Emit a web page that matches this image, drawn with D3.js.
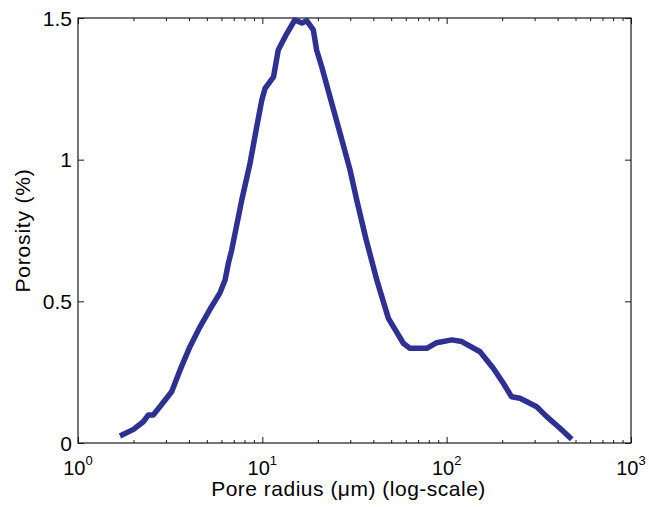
<!DOCTYPE html>
<html>
<head>
<meta charset="utf-8">
<script src="https://cdn.jsdelivr.net/npm/d3@7/dist/d3.min.js"></script>
<style>
  html, body { margin: 0; padding: 0; background: #fff; }
  svg { display: block; font-family: "Liberation Sans", Arial, sans-serif; }
</style>
</head>
<body>
<svg id="chart" width="649" height="507"></svg>
<script>
// Pore radius (µm)
const radius = [1.69, 1.73, 2.0, 2.26, 2.41, 2.56, 2.78, 3.22, 3.58, 4.05, 4.59, 5.2, 5.89, 6.28, 6.54, 6.82,
  7.73, 8.58, 9.33, 9.93, 10.35, 11.5, 12.2, 13.6, 15.0, 16.4, 17.4, 18.9, 19.7, 21.0, 23.8, 27.0, 29.9, 32.5,
  36.5, 41.8, 48.3, 58.2, 63.2, 78, 88.3, 106.6, 120.8, 151.7, 179, 203, 225, 250, 308, 349, 412, 477];
// Porosity (%)
const porosity = [0.025, 0.028, 0.048, 0.075, 0.099, 0.099, 0.128, 0.181, 0.258, 0.34, 0.41, 0.472, 0.53, 0.575, 0.634, 0.681,
  0.857, 0.988, 1.117, 1.21, 1.252, 1.292, 1.387, 1.446, 1.493, 1.482, 1.491, 1.458, 1.387, 1.328, 1.199, 1.07, 0.964, 0.858,
  0.72, 0.575, 0.44, 0.352, 0.334, 0.334, 0.354, 0.364, 0.358, 0.322, 0.264, 0.211, 0.163, 0.158, 0.128, 0.093, 0.052, 0.013];
const xMajorTicks = [1, 10, 100, 1000];
const xTickExponents = ["0", "1", "2", "3"];
const yTicks = [0, 0.5, 1, 1.5];
const yTickLabels = ["0", "0.5", "1", "1.5"];

(function () {
const pL = 78, pR = 631, pT = 18, pB = 443;
const svg = d3.select("#chart");
svg.append("rect").attr("width", 649).attr("height", 507).attr("fill", "#fff");

const x = d3.scaleLog().domain([1, 1000]).range([pL, pR]);
const y = d3.scaleLinear().domain([0, 1.5]).range([pB, pT]);

const minorTicks = [];
[1, 10, 100].forEach(d => { for (let k = 2; k <= 9; k++) minorTicks.push(d * k); });

const axisColor = "#1a1a1a";
function styleAxis(g) {
  g.select(".domain").remove();
  g.selectAll(".tick line").attr("stroke", axisColor).attr("stroke-width", 1);
}

svg.append("g").attr("transform", `translate(0,${pB})`)
  .call(d3.axisBottom(x).tickValues(xMajorTicks).tickSize(-6).tickFormat(""))
  .call(styleAxis);
svg.append("g").attr("transform", `translate(0,${pB})`)
  .call(d3.axisBottom(x).tickValues(minorTicks).tickSize(-3).tickFormat(""))
  .call(styleAxis);
svg.append("g").attr("transform", `translate(0,${pT})`)
  .call(d3.axisTop(x).tickValues(xMajorTicks).tickSize(-6).tickFormat(""))
  .call(styleAxis);
svg.append("g").attr("transform", `translate(0,${pT})`)
  .call(d3.axisTop(x).tickValues(minorTicks).tickSize(-3).tickFormat(""))
  .call(styleAxis);
svg.append("g").attr("transform", `translate(${pL},0)`)
  .call(d3.axisLeft(y).tickValues(yTicks).tickSize(-6).tickFormat(""))
  .call(styleAxis);
svg.append("g").attr("transform", `translate(${pR},0)`)
  .call(d3.axisRight(y).tickValues(yTicks).tickSize(-6).tickFormat(""))
  .call(styleAxis);

svg.append("rect").attr("x", pL).attr("y", pT)
  .attr("width", pR - pL).attr("height", pB - pT)
  .attr("fill", "none").attr("stroke", axisColor).attr("stroke-width", 1.2);

const xl = svg.append("g");
xMajorTicks.forEach((v, i) => {
  const t = xl.append("text")
    .attr("x", x(v)).attr("y", pB + 32)
    .attr("text-anchor", "middle")
    .attr("font-size", 20).attr("fill", "#000");
  t.append("tspan").text("10");
  t.append("tspan").attr("dy", -10.5).attr("font-size", 13).text(xTickExponents[i]);
});

svg.append("g").selectAll("text").data(yTicks).join("text")
  .attr("x", pL - 6).attr("y", d => y(d))
  .attr("dy", "0.36em")
  .attr("text-anchor", "end")
  .attr("font-size", 21).attr("fill", "#000")
  .text((d, i) => yTickLabels[i]);

svg.append("text").attr("x", (pL + pR) / 2 - 6).attr("y", 496)
  .attr("text-anchor", "middle").attr("font-size", 21).attr("letter-spacing", 0.5).attr("fill", "#000")
  .text("Pore radius (μm) (log-scale)");
svg.append("text").attr("transform", `translate(30,${(pT + pB) / 2}) rotate(-90)`)
  .attr("text-anchor", "middle").attr("font-size", 21).attr("letter-spacing", 0.8).attr("fill", "#000")
  .text("Porosity (%)");

const data = radius.map((r, i) => ({ r, p: porosity[i] }));
svg.append("path").datum(data)
  .attr("fill", "none")
  .attr("stroke", "#2e3192")
  .attr("stroke-width", 5.5)
  .attr("stroke-linejoin", "round")
  .attr("d", d3.line().x(d => x(d.r)).y(d => y(d.p)));
})();
</script>
</body>
</html>
